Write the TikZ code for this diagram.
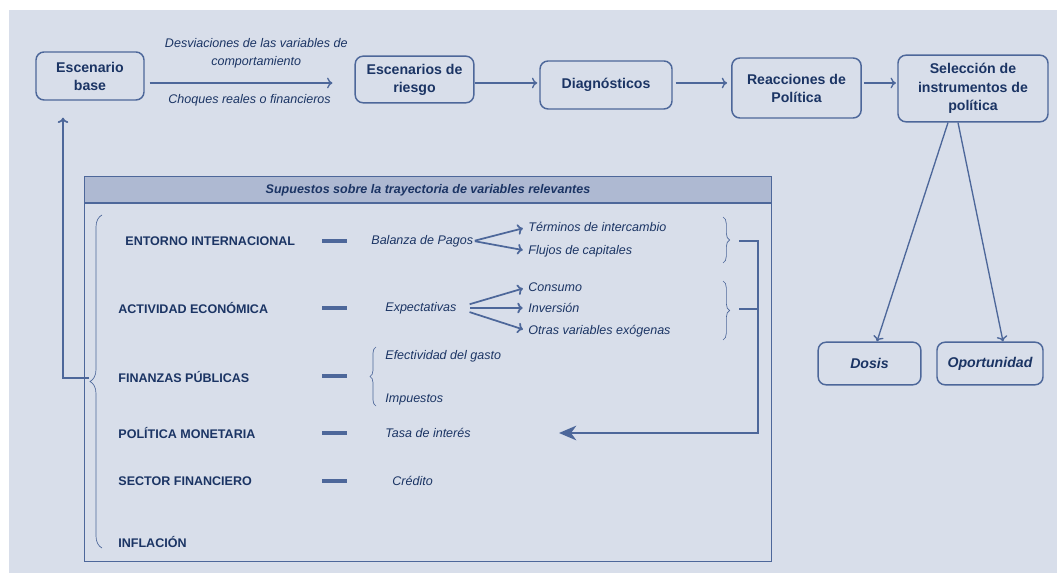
\documentclass[tikz,border=0pt]{standalone}
\usepackage{fontspec}
\setmainfont{Liberation Sans}
\usetikzlibrary{arrows,arrows.meta,decorations.pathreplacing}

\definecolor{fondo}{HTML}{D8DEEA}
\definecolor{cabecera}{HTML}{AEB9D2}
\definecolor{linea}{HTML}{4D679A}
\definecolor{azul}{HTML}{1B3464}

\begin{document}
\begin{tikzpicture}[x=0.75pt,y=-0.75pt,>={To[length=4pt,width=8pt]},semithick]
  \tikzstyle{caja}=[draw=linea,line width=1.1pt,rounded corners=6pt,fill=fondo,
                    text=azul,align=center,font=\fontsize{10.6}{13.5}\selectfont\bfseries]
  \tikzstyle{rubro}=[anchor=west,inner sep=0pt,text=azul,font=\fontsize{9.4}{11}\selectfont\bfseries]
  \tikzstyle{item}=[anchor=west,inner sep=0pt,text=azul,font=\fontsize{9.4}{13.5}\selectfont\itshape]
  \tikzstyle{flecha}=[->,color=linea,line width=1pt]
  \tikzstyle{guion}=[draw=linea,line width=2.4pt]
  \tikzstyle{llave}=[draw=linea,line width=0.5pt,decorate]

  % fondo
  \fill[white] (0,0) rectangle (1057,573);
  \fill[fondo] (9,10) rectangle (1057,573);

  % cadena superior
  \node[caja,minimum width=81pt,minimum height=36pt]      (EB) at (90,76)     {Escenario\\base};
  \node[caja,minimum width=89pt,minimum height=35pt]      (ER) at (414.5,79.5) {Escenarios de\\riesgo};
  \node[caja,minimum width=99pt,minimum height=36pt]      (DG) at (606,85)    {Diagnósticos};
  \node[caja,minimum width=97pt,minimum height=45pt]      (RP) at (796.5,88)  {Reacciones de\\Política};
  \node[caja,minimum width=112.5pt,minimum height=50pt,
        font=\fontsize{10.6}{14}\selectfont\bfseries]    (SI) at (973,88.5)  {Selección de\\instrumentos de\\política};
  \node[caja,minimum width=77pt,minimum height=32pt,
        font=\fontsize{10.6}{13.5}\selectfont\bfseries\itshape] (DO) at (869.5,363.5) {Dosis};
  \node[caja,minimum width=79.5pt,minimum height=32pt,
        font=\fontsize{10.6}{13.5}\selectfont\bfseries\itshape] (OP) at (990,363.5)   {Oportunidad};

  \coordinate (nivel) at (0,83);
  \path[flecha,shorten <=3.75pt,shorten >=16.5pt] (EB.east |- nivel) edge
        node[above=11pt,xshift=5pt,item,anchor=south,align=center] {Desviaciones de las variables de\\comportamiento}
        node[below=8pt,item,anchor=north] {Choques reales o financieros} (ER.west |- nivel);
  \path[flecha,shorten >=1.5pt] (ER.east |- nivel) edge (DG.west |- nivel);
  \path[flecha,shorten <=2.25pt,shorten >=3pt] (DG.east |- nivel) edge (RP.west |- nivel);
  \path[flecha,shorten <=1.5pt,shorten >=1pt] (RP.east |- nivel) edge (SI.west |- nivel);
  \path[flecha] ([xshift=-18.75pt]SI.south) edge ([xshift=5.6pt]DO.north)
                ([xshift=-11.25pt]SI.south) edge ([xshift=9.75pt]OP.north);

  % panel de supuestos
  \fill[cabecera] (84,176) rectangle (771,203);
  \draw[linea,line width=0.6pt] (84,176) rectangle (771,561);
  \draw[linea,line width=1pt] (84,203) -- (771,203);
  \node[text=azul,font=\fontsize{9.4}{11}\selectfont\bfseries\itshape] (TT) at (428,190)
       {Supuestos sobre la trayectoria de variables relevantes};

  \node[rubro] (EI) at (125,241) {ENTORNO INTERNACIONAL};
  \node[rubro] (AE) at (118,308) {ACTIVIDAD ECONÓMICA};
  \node[rubro] (FP) at (118,377) {FINANZAS PÚBLICAS};
  \node[rubro] (PM) at (118,433) {POLÍTICA MONETARIA};
  \node[rubro] (SF) at (118,481) {SECTOR FINANCIERO};
  \node[rubro] (IN) at (118,542) {INFLACIÓN};

  \foreach \y in {241,308,376,433,481}
    \draw[guion] (322,\y) -- (347,\y);

  \node[item] (BP) at (371,241) {Balanza de Pagos};
  \node[item] (TI) at (528,227) {Términos de intercambio};
  \node[item] (FC) at (528,251) {Flujos de capitales};
  \node[item] (EX) at (385,308) {Expectativas};
  \node[item] (CO) at (528,287) {Consumo};
  \node[item] (IV) at (528,308) {Inversión};
  \node[item] (OV) at (528,331) {Otras variables exógenas};
  \node[item] (EG) at (385,356) {Efectividad del gasto};
  \node[item] (IM) at (385,399) {Impuestos};
  \node[item] (TA) at (385,433) {Tasa de interés};
  \node[item] (CR) at (392,481) {Crédito};

  \path[flecha,line width=1.3pt,shorten <=1pt,shorten >=4pt] (BP.east) edge (TI.west)
                                                             (BP.east) edge (FC.west);
  \path[flecha,line width=1.3pt,shorten <=10pt,shorten >=4pt] (EX.east) edge (CO.west)
                                                              (EX.east) edge (IV.west)
                                                              (EX.east) edge (OV.west);

  % llaves
  \draw[llave,decoration={brace,amplitude=5pt}] (723,217) -- (723,263);
  \draw[llave,decoration={brace,amplitude=5pt}] (723,281) -- (723,340);
  \draw[llave,decoration={brace,amplitude=4.5pt}] (376,406) -- (376,347);
  \draw[llave,decoration={brace,amplitude=9pt}] (102,548) -- (102,215);

  % retornos
  \coordinate (b1)    at (739,241);
  \coordinate (b2)    at (739,309);
  \coordinate (esq)   at (758,433);
  \coordinate (meta)  at (559,433);
  \coordinate (punta) at (89,378);
  \coordinate (giro)  at (63,378);
  \draw[linea,line width=1.5pt] (b2) -- (b2 -| esq);
  \draw[linea,line width=1.5pt,-{Stealth[length=13pt,width=11pt,inset=4pt]}]
       (b1) -- (b1 -| esq) -- (esq) -- (meta);
  \draw[flecha,line width=1.3pt,shorten >=12.75pt] (punta) -- (giro) -- (giro |- EB.south);
\end{tikzpicture}
\end{document}
